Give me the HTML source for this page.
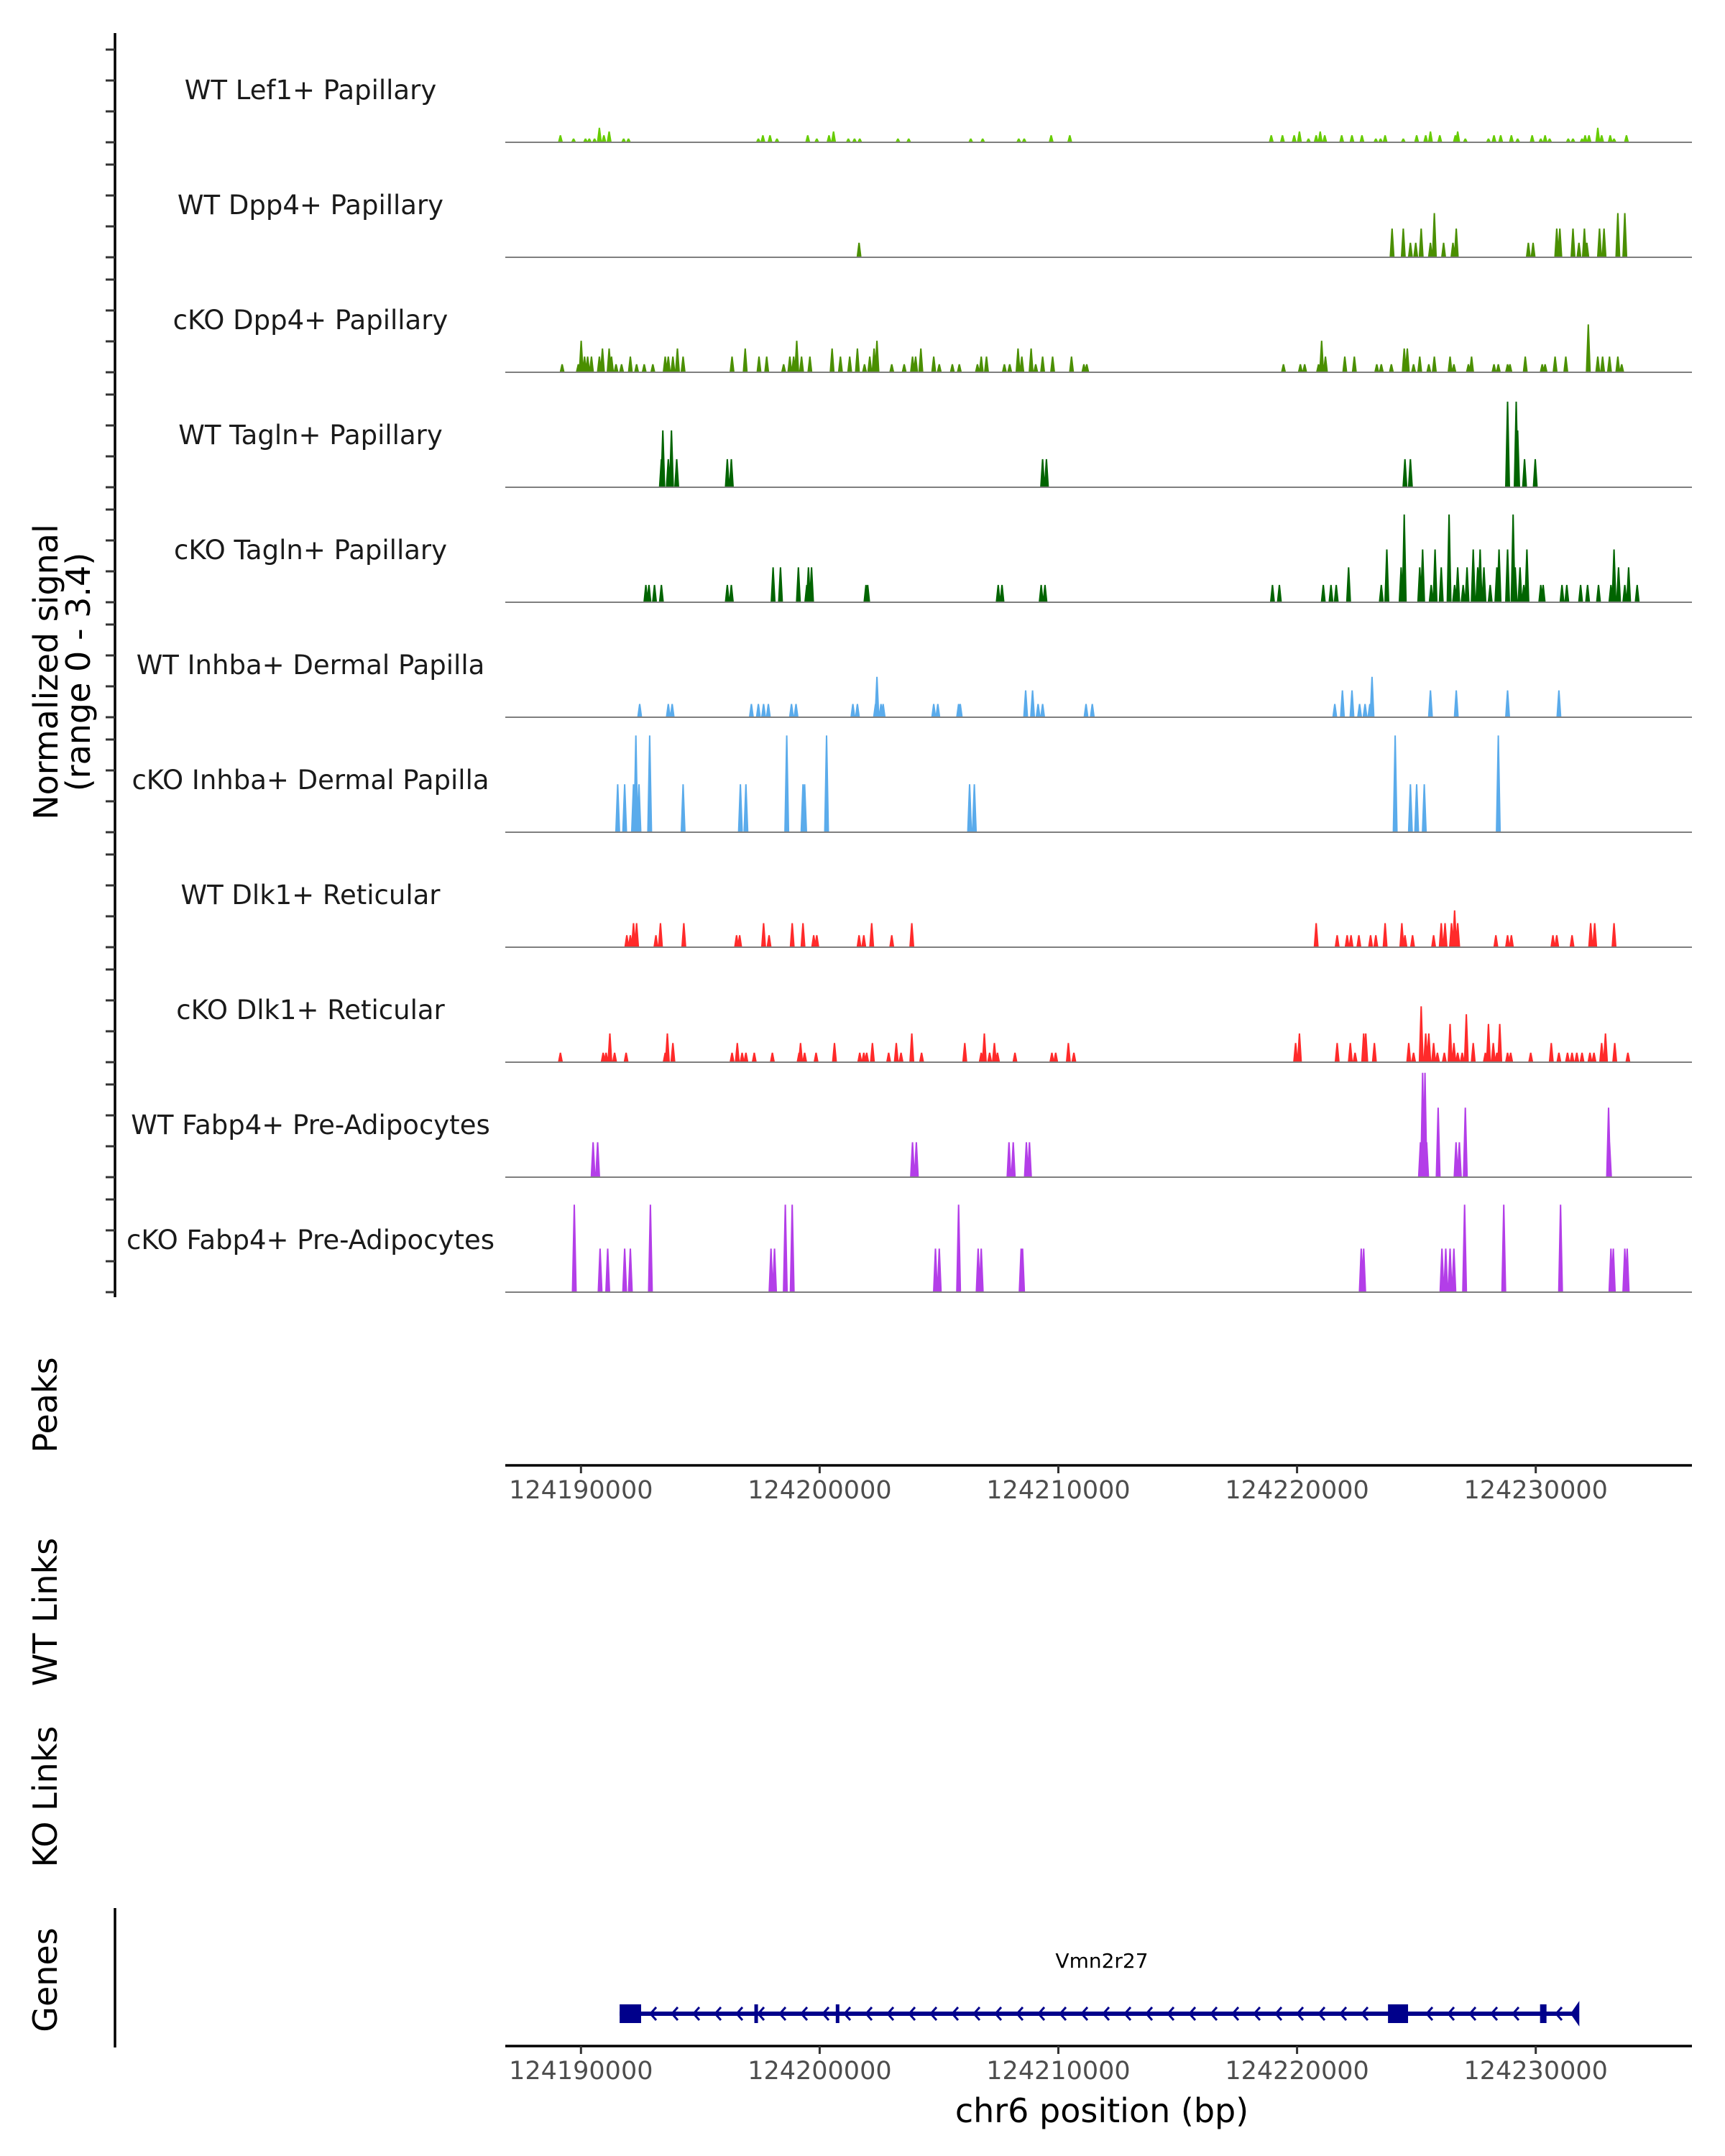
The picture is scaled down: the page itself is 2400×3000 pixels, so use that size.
<!DOCTYPE html>
<html><head><meta charset="utf-8">
<style>
html,body{margin:0;padding:0;background:#fff;}
svg{display:block;font-family:"DejaVu Sans","Liberation Sans",sans-serif;}
</style></head>
<body>
<svg id="chart" width="2400" height="3000" viewBox="0 0 2400 3000" xmlns="http://www.w3.org/2000/svg">
<rect width="2400" height="3000" fill="#fff"/>
<g id="tracks"></g>
<line x1="160" y1="46" x2="160" y2="1805" stroke="#000" stroke-width="3.5"/>
<g id="yticks"></g>
<g font-size="46" fill="#000" text-anchor="middle">
<text transform="translate(80,935) rotate(-90)">Normalized signal</text>
<text transform="translate(125,935) rotate(-90)">(range 0 - 3.4)</text>
</g>
<text transform="translate(79,1955) rotate(-90)" font-size="46" text-anchor="middle">Peaks</text>
<text transform="translate(79,2243) rotate(-90)" font-size="46" text-anchor="middle">WT Links</text>
<text transform="translate(79,2500) rotate(-90)" font-size="46" text-anchor="middle">KO Links</text>
<text transform="translate(79,2755) rotate(-90)" font-size="46" text-anchor="middle">Genes</text>
<line x1="160" y1="2655" x2="160" y2="2849" stroke="#000" stroke-width="3.5"/>
<g id="axis1"></g>
<g id="axis2"></g>
<g id="gene"></g>
<text x="1533" y="2738" font-size="28" text-anchor="middle">Vmn2r27</text>
<text x="1533" y="2953" font-size="46" text-anchor="middle">chr6 position (bp)</text>
</svg>
<script>
const trackNames = ["WT Lef1+ Papillary","WT Dpp4+ Papillary","cKO Dpp4+ Papillary","WT Tagln+ Papillary","cKO Tagln+ Papillary","WT Inhba+ Dermal Papilla","cKO Inhba+ Dermal Papilla","WT Dlk1+ Reticular","cKO Dlk1+ Reticular","WT Fabp4+ Pre-Adipocytes","cKO Fabp4+ Pre-Adipocytes"];
const trackColors = ["#66CC00","#4A8F00","#4A8F00","#006400","#006400","#5AABEB","#5AABEB","#FF2A2A","#FF2A2A","#B33EE8","#B33EE8"];
// Positions in kb (chr6), values = normalized signal
const lef1Pos = [124189.14,124189.69,124190.19,124190.35,124190.57,124190.77,124190.96,124191.18,124191.79,124191.99,124197.43,124197.62,124197.92,124198.21,124199.50,124199.88,124200.39,124200.58,124201.20,124201.46,124201.68,124203.28,124203.73,124206.33,124206.83,124208.34,124208.57,124209.70,124210.48,124218.92,124219.39,124219.88,124220.10,124220.48,124220.80,124220.97,124221.16,124221.87,124222.30,124222.72,124223.30,124223.50,124223.69,124224.45,124225.01,124225.39,124225.59,124225.98,124226.63,124226.73,124227.05,124228.02,124228.25,124228.53,124228.98,124229.24,124229.85,124230.21,124230.39,124230.58,124231.36,124231.56,124231.94,124232.07,124232.23,124232.60,124232.76,124233.12,124233.28,124233.80];
const lef1Val = [.23,.12,.12,.12,.12,.47,.23,.35,.12,.12,.12,.23,.23,.12,.23,.12,.23,.35,.12,.12,.12,.12,.12,.12,.12,.12,.12,.23,.23,.23,.23,.23,.35,.12,.23,.35,.23,.23,.23,.23,.12,.12,.23,.12,.23,.23,.35,.23,.23,.35,.12,.12,.23,.23,.23,.12,.23,.12,.23,.12,.12,.12,.12,.23,.23,.47,.23,.23,.12,.23];
const wtDppPos = [124201.65,124223.98,124224.45,124224.75,124224.97,124225.20,124225.59,124225.75,124226.14,124226.53,124226.67,124229.69,124229.89,124230.88,124231.01,124231.56,124231.81,124232.04,124232.14,124232.67,124232.86,124233.44,124233.73];
const wtDppVal = [.47,.93,.93,.47,.47,.93,.47,1.43,.47,.47,.93,.47,.47,.93,.93,.93,.47,.93,.47,.93,.93,1.43,1.43];
const koDppPos = [124189.21,124189.89,124190.01,124190.15,124190.28,124190.44,124190.77,124190.90,124191.18,124191.28,124191.47,124191.70,124192.07,124192.33,124192.65,124193.01,124193.53,124193.66,124193.85,124194.04,124194.28,124196.33,124196.88,124197.46,124197.78,124198.49,124198.75,124198.91,124199.04,124199.24,124199.59,124200.52,124200.87,124201.26,124201.58,124201.88,124202.10,124202.28,124202.40,124203.02,124203.54,124203.89,124204.02,124204.24,124204.78,124205.01,124205.56,124205.85,124206.61,124206.77,124206.99,124207.74,124207.96,124208.31,124208.47,124208.86,124209.05,124209.34,124209.76,124210.55,124211.07,124211.19,124219.43,124220.14,124220.32,124220.90,124221.03,124221.19,124222.00,124222.40,124223.34,124223.53,124223.95,124224.49,124224.62,124224.88,124225.14,124225.52,124225.75,124226.41,124226.57,124227.18,124227.31,124228.25,124228.43,124228.82,124228.92,124229.56,124230.27,124230.39,124230.81,124231.26,124232.20,124232.60,124232.80,124233.09,124233.44,124233.60];
const koDppVal = [.26,.26,1.02,.51,.51,.51,.51,.77,.77,.51,.26,.26,.51,.26,.26,.26,.51,.51,.51,.77,.51,.51,.77,.51,.51,.26,.51,.51,1.02,.51,.51,.77,.51,.51,.77,.26,.51,.77,1.02,.26,.26,.51,.51,.77,.51,.26,.26,.26,.26,.51,.51,.26,.26,.77,.51,.77,.26,.51,.51,.51,.26,.26,.26,.26,.26,.26,1.02,.51,.51,.51,.26,.26,.26,.77,.77,.26,.51,.26,.51,.51,.26,.26,.51,.26,.26,.26,.26,.51,.26,.26,.51,.51,1.55,.51,.51,.51,.51,.26];
const wtTagPos = [124193.37,124193.43,124193.66,124193.79,124194.01,124196.13,124196.30,124209.34,124209.50,124224.52,124224.75,124228.82,124229.18,124229.24,124229.53,124229.98];
const wtTagVal = [.91,1.84,.91,1.84,.91,.91,.91,.91,.91,.91,.91,2.77,2.77,1.84,.91,.91];
const koTagPos = [124192.72,124192.85,124193.08,124193.37,124196.13,124196.30,124198.05,124198.36,124199.11,124199.46,124199.53,124199.66,124201.94,124202.01,124207.48,124207.64,124209.28,124209.44,124218.97,124219.26,124221.10,124221.42,124221.64,124222.16,124223.53,124223.76,124224.36,124224.49,124225.14,124225.26,124225.62,124225.78,124226.04,124226.37,124226.60,124226.73,124226.96,124227.12,124227.38,124227.57,124227.67,124227.83,124228.09,124228.37,124228.46,124228.82,124229.05,124229.14,124229.34,124229.50,124229.63,124230.21,124230.31,124231.10,124231.30,124231.88,124232.17,124232.63,124233.15,124233.28,124233.47,124233.73,124233.89,124234.25];
const koTagVal = [.56,.56,.56,.56,.56,.56,1.13,1.13,1.13,.56,1.13,1.13,.56,.56,.56,.56,.56,.56,.56,.56,.56,.56,.56,1.13,.56,1.71,1.13,2.84,1.13,1.71,.56,1.71,1.13,2.84,.56,1.13,.56,1.13,1.71,1.13,1.71,1.13,.56,1.13,1.71,1.71,2.84,1.13,1.13,.56,1.71,.56,.56,.56,.56,.56,.56,.56,.56,1.71,1.13,.56,1.13,.56];
const wtInhPos = [124192.46,124193.66,124193.82,124197.14,124197.43,124197.65,124197.85,124198.82,124199.01,124201.39,124201.58,124202.34,124202.40,124202.57,124202.66,124204.78,124204.95,124205.82,124205.89,124208.63,124208.92,124209.15,124209.34,124211.16,124211.42,124221.58,124221.90,124222.30,124222.62,124222.85,124223.05,124223.14,124225.59,124226.67,124228.82,124230.97];
const wtInhVal = [.43,.43,.43,.43,.43,.43,.43,.43,.43,.43,.43,.43,1.31,.43,.43,.43,.43,.43,.43,.87,.87,.43,.43,.43,.43,.43,.87,.87,.43,.43,.43,1.31,.87,.87,.87,.87];
const koInhPos = [124191.54,124191.83,124192.20,124192.30,124192.43,124192.88,124194.28,124196.68,124196.91,124198.62,124199.30,124199.37,124200.29,124206.28,124206.48,124224.11,124224.75,124225.01,124225.33,124228.43];
const koInhVal = [1.55,1.55,1.55,3.13,1.55,3.13,1.55,1.55,1.55,3.13,1.55,1.55,3.13,1.55,1.55,3.13,1.55,1.55,1.55,3.13];
const wtDlkPos = [124191.92,124192.07,124192.20,124192.33,124193.14,124193.33,124194.31,124196.52,124196.65,124197.65,124197.88,124198.85,124199.30,124199.75,124199.88,124201.65,124201.85,124202.18,124203.02,124203.86,124220.80,124221.68,124222.10,124222.26,124222.59,124223.08,124223.30,124223.69,124224.39,124224.52,124224.84,124225.72,124226.04,124226.20,124226.47,124226.60,124226.73,124228.33,124228.82,124228.98,124230.72,124230.88,124231.52,124232.30,124232.47,124233.28];
const wtDlkVal = [.39,.39,.78,.78,.39,.78,.78,.39,.39,.78,.39,.78,.78,.39,.39,.39,.39,.78,.39,.78,.78,.39,.39,.39,.39,.39,.39,.78,.78,.39,.39,.39,.78,.78,.78,1.19,.78,.39,.39,.39,.39,.39,.39,.78,.78,.78];
const koDlkPos = [124189.14,124190.93,124191.05,124191.21,124191.41,124191.89,124193.53,124193.62,124193.85,124196.33,124196.55,124196.75,124196.91,124197.26,124198.02,124199.14,124199.20,124199.37,124199.85,124200.62,124201.68,124201.85,124201.97,124202.21,124202.89,124203.21,124203.41,124203.86,124204.27,124206.08,124206.77,124206.90,124207.12,124207.32,124207.45,124208.18,124209.73,124209.89,124210.42,124210.65,124219.94,124220.10,124221.68,124222.23,124222.43,124222.79,124222.88,124223.24,124224.68,124224.88,124225.20,124225.39,124225.52,124225.72,124225.88,124226.17,124226.41,124226.57,124226.73,124226.92,124227.09,124227.38,124227.89,124228.02,124228.22,124228.37,124228.49,124228.82,124228.95,124229.79,124230.65,124230.97,124231.33,124231.52,124231.72,124231.94,124232.27,124232.44,124232.76,124232.92,124233.31,124233.86];
const koDlkVal = [.31,.31,.31,.93,.31,.31,.31,.93,.62,.31,.62,.31,.31,.31,.31,.31,.62,.31,.31,.62,.31,.31,.31,.62,.31,.62,.31,.93,.31,.62,.31,.93,.31,.62,.31,.31,.31,.31,.62,.31,.62,.93,.62,.62,.31,.93,.93,.62,.62,.31,1.81,.93,.93,.62,.31,.31,1.24,.62,.31,.31,1.55,.62,.31,1.24,.62,.31,1.24,.31,.31,.31,.62,.31,.31,.31,.31,.31,.31,.31,.62,.93,.62,.31];
const wtFabPos = [124190.51,124190.70,124203.89,124204.05,124207.93,124208.11,124208.66,124208.79,124225.17,124225.26,124225.36,124225.43,124225.91,124226.66,124226.80,124227.05,124233.05,124233.09];
const wtFabVal = [1.13,1.13,1.13,1.13,1.13,1.13,1.13,1.13,1.13,3.38,3.38,1.13,2.25,1.13,1.13,2.25,2.25,1.13];
const koFabPos = [124189.72,124190.80,124191.12,124191.83,124192.07,124192.91,124197.96,124198.11,124198.56,124198.85,124204.85,124205.01,124205.82,124206.64,124206.77,124208.44,124208.50,124222.69,124222.79,124226.07,124226.23,124226.41,124226.57,124227.02,124228.66,124231.04,124233.15,124233.25,124233.73,124233.83];
const koFabVal = [2.83,1.41,1.41,1.41,1.41,2.83,1.41,1.41,2.83,2.83,1.41,1.41,2.83,1.41,1.41,1.41,1.41,1.41,1.41,1.41,1.41,1.41,1.41,2.83,2.83,2.83,1.41,1.41,1.41,1.41];
const trackPos = [lef1Pos,wtDppPos,koDppPos,wtTagPos,koTagPos,wtInhPos,koInhPos,wtDlkPos,koDlkPos,wtFabPos,koFabPos];
const trackVal = [lef1Val,wtDppVal,koDppVal,wtTagVal,koTagVal,wtInhVal,koInhVal,wtDlkVal,koDlkVal,wtFabVal,koFabVal];
const xTicks = [124190,124200,124210,124220,124230];
const xTickLabels = ["124190000","124200000","124210000","124220000","124230000"];
const yTicks = [0,1,2,3];
const geneStart = 124191.62, geneEnd = 124231.78;
const exonStarts = [124191.62,124223.81,124230.18];
const exonEnds = [124192.52,124224.65,124230.45];
const spliceMarks = [124197.34,124200.75];

const NS = "http://www.w3.org/2000/svg";
const X0 = 703, X1 = 2354;
function xs(kb){ return 808.3 + (kb - 124190) * 33.21; }
const UNIT = 43, TOP = 198, STEP = 160;
function ys(v, i){ return TOP + STEP*i - v*UNIT; }
function mk(tag, attrs, parent){ const e = document.createElementNS(NS, tag); for (const k in attrs) e.setAttribute(k, attrs[k]); parent.appendChild(e); return e; }

const tracks = document.getElementById('tracks');
const yt = document.getElementById('yticks');
trackNames.forEach((name, i) => {
  const b = ys(0, i);
  const g = mk('g', {}, tracks);
  
  
  const lbl = mk('text', {x: 432, y: b - 60, 'font-size': 37, fill: '#1a1a1a', 'text-anchor': 'middle'}, g);
  lbl.textContent = name;
  
  
  const pos = trackPos[i], val = trackVal[i];
  let d = '';
  for (let k = 0; k < pos.length; k++) {
    const x = xs(pos[k]), y = ys(val[k], i);
    d += `M${(x-3.5).toFixed(1)},${b}L${(x-1).toFixed(1)},${y.toFixed(1)}L${(x+1).toFixed(1)},${y.toFixed(1)}L${(x+3.5).toFixed(1)},${b}Z`;
  }
  const p = mk('path', {d: d, fill: trackColors[i]}, g);
  
  
  const bl = mk('line', {x1: X0, x2: X1, y1: b, y2: b, stroke: '#7f7f7f', 'stroke-width': 2}, g);
  
  
  yTicks.forEach(t => {
    const tk = mk('line', {x1: 147, x2: 160, y1: ys(t, i), y2: ys(t, i), stroke: '#333', 'stroke-width': 3}, yt);
    
    
  });
});

function drawAxis(id, y){
  const g = document.getElementById(id);
  const l = mk('line', {x1: X0, x2: X1, y1: y, y2: y, stroke: '#000', 'stroke-width': 3.5}, g);
  
  
  xTicks.forEach((t, k) => {
    const tk = mk('line', {x1: xs(t), x2: xs(t), y1: y, y2: y + 11, stroke: '#333', 'stroke-width': 3}, g);
    
    
    const tl = mk('text', {x: xs(t), y: y + 46, 'font-size': 35, fill: '#4d4d4d', 'text-anchor': 'middle'}, g);
    tl.textContent = xTickLabels[k];
    
    
  });
}
drawAxis('axis1', 2039);
drawAxis('axis2', 2847);

const gg = document.getElementById('gene');
const GY = 2802, C = '#00008B';
const gl = mk('line', {x1: xs(geneStart), x2: xs(geneEnd), y1: GY, y2: GY, stroke: C, 'stroke-width': 6}, gg);


for (let x = xs(exonEnds[0]) + 16; x < xs(geneEnd) - 8; x += 30) {
  let skip = false;
  for (let k = 1; k < exonStarts.length; k++) if (x > xs(exonStarts[k]) - 10 && x < xs(exonEnds[k]) + 8) skip = true;
  if (skip) continue;
  const ch = mk('path', {d: `M${x+5},${GY-9}L${x-3},${GY}L${x+5},${GY+9}`, stroke: C, 'stroke-width': 3, fill: 'none'}, gg);
  
  
}
exonStarts.forEach((s, k) => {
  const r = mk('rect', {x: xs(s), y: GY - 13, width: xs(exonEnds[k]) - xs(s), height: 26, fill: C}, gg);
  
  
});
spliceMarks.forEach(s => {
  const r = mk('rect', {x: xs(s) - 2.5, y: GY - 13, width: 5, height: 26, fill: C}, gg);
  
  
});
const endX = xs(geneEnd);
const cap = mk('path', {d: `M${endX},${GY-13}L${endX},${GY+13}L${endX-9},${GY}Z`, fill: C, stroke: C, 'stroke-width': 3}, gg);


</script>
</body></html>
